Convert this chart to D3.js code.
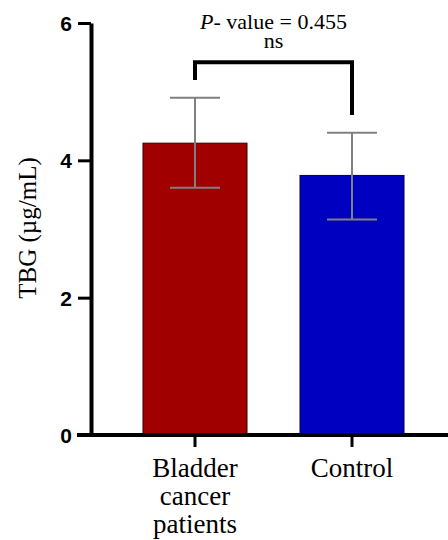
<!DOCTYPE html>
<html>
<head>
<meta charset="utf-8">
<script src="https://cdn.jsdelivr.net/npm/d3@7"></script>
<style>
  body { margin: 0; background: #fff; }
</style>
</head>
<body>
<div id="chart"></div>
<script>
// data
var groups = ["Bladder cancer patients", "Control"]
var groupLines = [["Bladder", "cancer", "patients"], ["Control"]]
var means = [4.25, 3.78]
var errLow = [3.60, 3.14]
var errHigh = [4.91, 4.40]
var colors = ["#a00000", "#0000c0"]
var edges = ["#300000", "#000040"]
var yTicks = [0, 2, 4, 6]
var pText = "0.455"

var serif = "'Liberation Serif', 'DejaVu Serif', serif"
var sans = "'Liberation Sans', Arial, sans-serif"

var margin = {top: 23, right: 0, bottom: 105, left: 91},
    width = 448 - margin.left - margin.right,
    height = 540 - margin.top - margin.bottom

var svg = d3.select("#chart").append("svg")
    .attr("width", 448)
    .attr("height", 540)
  .append("g")
    .attr("transform", "translate(" + margin.left + "," + margin.top + ")")

var y = d3.scaleLinear().domain([0, 6]).range([height, 0])
var x = d3.scaleBand().domain(groups).range([52, 313]).paddingInner(0.3376).paddingOuter(0)

// bars
svg.selectAll(".bar")
  .data(groups)
  .enter().append("rect")
    .attr("x", function(d) { return x(d) })
    .attr("y", function(d, i) { return y(means[i]) })
    .attr("width", x.bandwidth())
    .attr("height", function(d, i) { return height - y(means[i]) })
    .attr("fill", function(d, i) { return colors[i] })
    .attr("stroke", function(d, i) { return edges[i] })
    .attr("stroke-width", 1)

// error bars
var eb = svg.selectAll(".eb").data(groups).enter().append("g")
eb.append("line")
  .attr("x1", function(d) { return x(d) + x.bandwidth() / 2 })
  .attr("x2", function(d) { return x(d) + x.bandwidth() / 2 })
  .attr("y1", function(d, i) { return y(errLow[i]) })
  .attr("y2", function(d, i) { return y(errHigh[i]) })
  .attr("stroke", "#808080").attr("stroke-width", 2)
eb.append("line")
  .attr("x1", function(d) { return x(d) + x.bandwidth() / 2 - 25 })
  .attr("x2", function(d) { return x(d) + x.bandwidth() / 2 + 25 })
  .attr("y1", function(d, i) { return y(errHigh[i]) })
  .attr("y2", function(d, i) { return y(errHigh[i]) })
  .attr("stroke", "#808080").attr("stroke-width", 2)
eb.append("line")
  .attr("x1", function(d) { return x(d) + x.bandwidth() / 2 - 25 })
  .attr("x2", function(d) { return x(d) + x.bandwidth() / 2 + 25 })
  .attr("y1", function(d, i) { return y(errLow[i]) })
  .attr("y2", function(d, i) { return y(errLow[i]) })
  .attr("stroke", "#808080").attr("stroke-width", 2)

// y axis
var yAxis = svg.append("g")
  .call(d3.axisLeft(y).tickValues(yTicks).tickSize(13).tickSizeOuter(0).tickFormat(d3.format("d")))
yAxis.select(".domain").attr("stroke", "#000").attr("stroke-width", 4)
yAxis.selectAll(".tick line").attr("stroke", "#000").attr("stroke-width", 3)
yAxis.selectAll(".tick text")
  .attr("x", -19)
  .attr("dy", "0.35em")
  .style("font-family", sans)
  .style("font-weight", "bold")
  .style("font-size", "21px")
  .attr("fill", "#000")

// x axis
var xAxis = svg.append("g")
  .attr("transform", "translate(0," + height + ")")
  .call(d3.axisBottom(x).tickSize(12).tickSizeOuter(0).tickFormat(""))
xAxis.select(".domain").attr("d", "M-14,0H" + width).attr("stroke", "#000").attr("stroke-width", 4)
xAxis.selectAll(".tick line").attr("stroke", "#000").attr("stroke-width", 3)

// x labels in several lines
groups.forEach(function(g, i) {
  groupLines[i].forEach(function(line, j) {
    svg.append("text")
      .attr("text-anchor", "middle")
      .attr("x", x(g) + x.bandwidth() / 2)
      .attr("y", height + 42 + j * 28)
      .style("font-family", serif)
      .style("font-size", "27px")
      .attr("fill", "#000")
      .text(line)
  })
})

// y label
svg.append("text")
  .attr("transform", "rotate(-90)")
  .attr("x", -205)
  .attr("y", -55)
  .attr("text-anchor", "middle")
  .style("font-family", serif)
  .style("font-size", "25px")
  .attr("fill", "#000")
  .text("TBG (\u00b5g/mL)")

// significance bracket
var cx0 = x(groups[0]) + x.bandwidth() / 2
var cx1 = x(groups[1]) + x.bandwidth() / 2
svg.append("path")
  .attr("d", "M" + cx0 + "," + y(5.17) + "V" + y(5.43) + "H" + cx1 + "V" + y(4.66))
  .attr("fill", "none")
  .attr("stroke", "#000")
  .attr("stroke-width", 4)

var pt = svg.append("text")
  .attr("x", (cx0 + cx1) / 2)
  .attr("y", 6)
  .attr("text-anchor", "middle")
  .style("font-family", serif)
  .style("font-size", "22px")
  .attr("fill", "#000")
pt.append("tspan").style("font-style", "italic").text("P")
pt.append("tspan").text("- value = " + pText)
svg.append("text")
  .attr("x", (cx0 + cx1) / 2)
  .attr("y", 25)
  .attr("text-anchor", "middle")
  .style("font-family", serif)
  .style("font-size", "22px")
  .attr("fill", "#000")
  .text("ns")
</script>
</body>
</html>
